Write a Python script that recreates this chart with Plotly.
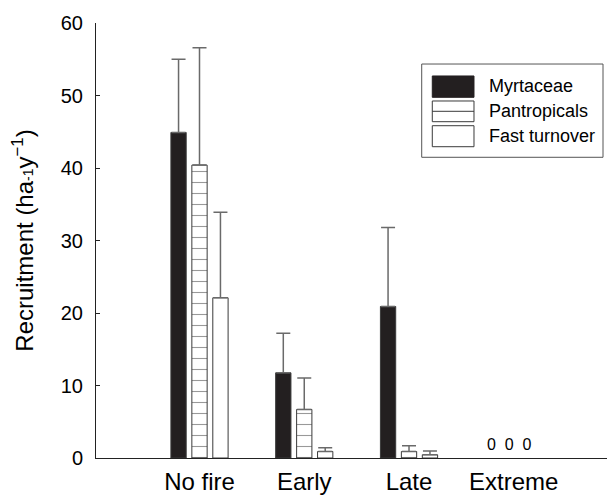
import plotly.graph_objects as go

categories = ["No fire", "Early", "Late", "Extreme"]
series_names = ["Myrtaceae", "Pantropicals", "Fast turnover"]
myrtaceae = [44.9, 11.75, 20.9, 0]
pantropicals = [40.4, 6.7, 0.9, 0]
fast_turnover = [22.1, 0.9, 0.45, 0]
myrtaceae_err = [10.1, 5.45, 10.9, 0]
pantropicals_err = [16.2, 4.35, 0.8, 0]
fast_turnover_err = [11.8, 0.5, 0.5, 0]
yticks = [0, 10, 20, 30, 40, 50, 60]

FONT = "Liberation Sans, Arial, Helvetica, sans-serif"
offsets = [-0.2, 0.0, 0.2]
bar_w = 0.146
values = [myrtaceae, pantropicals, fast_turnover]
errs = [myrtaceae_err, pantropicals_err, fast_turnover_err]


def style(j):
    if j == 0:
        return dict(color="#231f20", line=dict(color="#3a3a3a", width=1))
    if j == 1:
        return dict(color="white", line=dict(color="#3a3a3a", width=1),
                    pattern=dict(shape="-", size=11, solidity=0.1, fgcolor="#333333",
                                 bgcolor="white", fillmode="overlay"))
    return dict(color="white", line=dict(color="#3a3a3a", width=1))


fig = go.Figure()
for j, name in enumerate(series_names):
    xs = [i + offsets[j] for i in range(len(categories))]
    # zero-valued bars (Extreme) are not drawn; they are marked with "0" text instead
    y_plot = [v if v > 0 else None for v in values[j]]
    err_plus = [e if v > 0 else None for e, v in zip(errs[j], values[j])]
    fig.add_trace(go.Bar(
        x=xs, y=y_plot, width=bar_w, name=name, marker=style(j),
        error_y=dict(type="data", array=err_plus, arrayminus=[0] * len(categories),
                     symmetric=False, color="#6a6a6a", thickness=1.5, width=7),
        showlegend=False,
    ))

# "0 0 0" label for the Extreme treatment
fig.add_annotation(x=3, y=1.86, xref="x", yref="y", xshift=-4,
                   text="0\u00a0\u00a00\u00a0\u00a00", showarrow=False,
                   font=dict(family=FONT, size=16, color="black"))

# custom legend
shapes = []
shapes.append(dict(type="rect", xref="paper", yref="paper", x0=0.6374, x1=0.9922, y0=0.6913, y1=0.9057,
                   line=dict(color="#555555", width=1), fillcolor="white"))
rows = [(0.8292, 0.8782), (0.7731, 0.8207), (0.7156, 0.7639)]
sx0, sx1 = 0.6581, 0.7397
shapes.append(dict(type="rect", xref="paper", yref="paper", x0=sx0, x1=sx1, y0=rows[0][0], y1=rows[0][1],
                   line=dict(color="#231f20", width=1), fillcolor="#231f20"))
shapes.append(dict(type="rect", xref="paper", yref="paper", x0=sx0, x1=sx1, y0=rows[1][0], y1=rows[1][1],
                   line=dict(color="#3a3a3a", width=1), fillcolor="white"))
shapes.append(dict(type="line", xref="paper", yref="paper", x0=sx0, x1=sx1, y0=0.797, y1=0.797,
                   line=dict(color="#3a3a3a", width=1)))
shapes.append(dict(type="rect", xref="paper", yref="paper", x0=sx0, x1=sx1, y0=rows[2][0], y1=rows[2][1],
                   line=dict(color="#3a3a3a", width=1), fillcolor="white"))
for name, yc in zip(series_names, [0.8545, 0.797, 0.7398]):
    fig.add_annotation(x=0.7658, y=yc, xref="paper", yref="paper", xanchor="left", yanchor="middle",
                       text=name, showarrow=False, font=dict(family=FONT, size=18, color="black"))

fig.update_layout(
    width=607, height=496,
    margin=dict(l=96, r=0, t=23, b=38),
    paper_bgcolor="white", plot_bgcolor="white",
    barmode="overlay",
    shapes=shapes,
    font=dict(family=FONT, color="black"),
    xaxis=dict(range=[-0.988, 3.89], tickvals=list(range(len(categories))), ticktext=categories,
               showgrid=False, zeroline=False, showline=True, linecolor="#222222", linewidth=1,
               ticks="", tickfont=dict(size=24, color="black"), ticklabelstandoff=2),
    yaxis=dict(range=[0, 60], tickvals=yticks, showgrid=False, zeroline=False,
               showline=True, linecolor="#222222", linewidth=1,
               ticks="inside", ticklen=4, tickcolor="#222222",
               tickfont=dict(size=20, color="black"), ticklabelstandoff=8,
               title=dict(text="Recruitment (ha<span style='font-size:14px'>-1</span>y<sup>\u22121</sup>)",
                          font=dict(size=24, color="black"), standoff=20)),
)

fig.write_html("out.html")
